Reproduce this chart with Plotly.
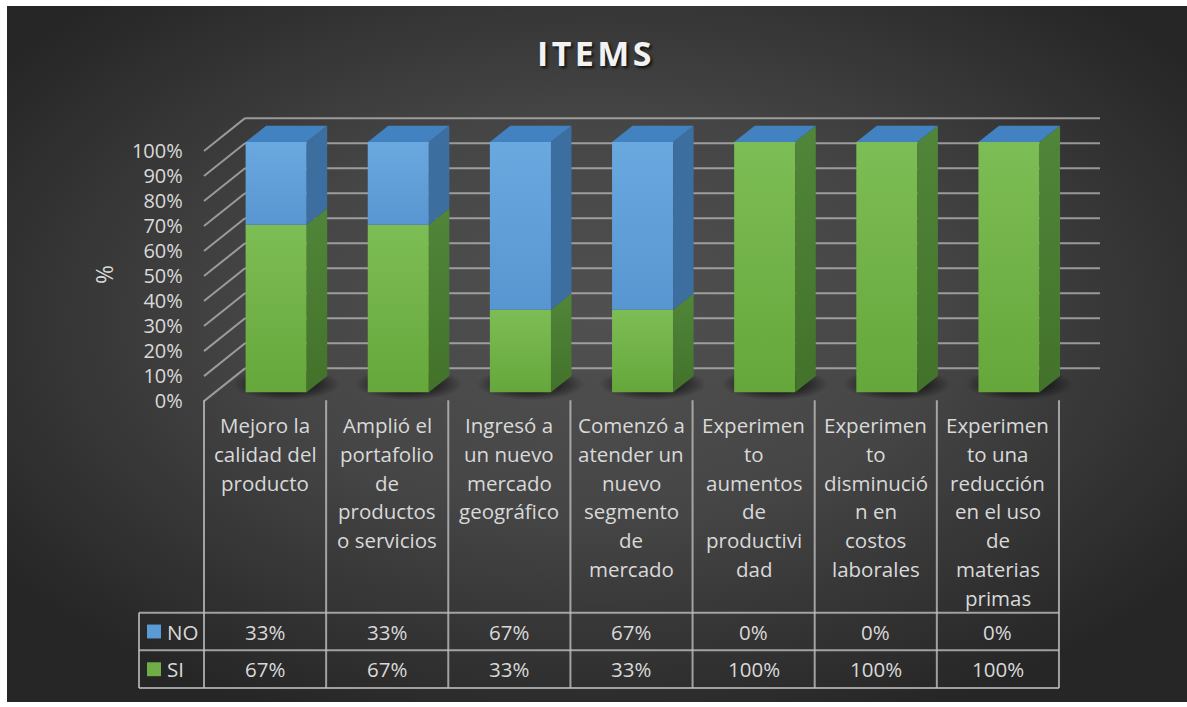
import base64
import numpy as np
import plotly.graph_objects as go

W, H = 1187, 707

# ---- data -------------------------------------------------------------
CATEGORY_LINES = [
    ["Mejoro la", "calidad del", "producto"],
    ["Amplió el", "portafolio", "de", "productos", "o servicios"],
    ["Ingresó a", "un nuevo", "mercado", "geográfico"],
    ["Comenzó a", "atender un", "nuevo", "segmento", "de", "mercado"],
    ["Experimen", "to", "aumentos", "de", "productivi", "dad"],
    ["Experimen", "to", "disminució", "n en", "costos", "laborales"],
    ["Experimen", "to una", "reducción", "en el uso", "de", "materias", "primas"],
]
SI = [67, 67, 33, 33, 100, 100, 100]
NO = [33, 33, 67, 67, 0, 0, 0]
Y_TICKS = [0, 10, 20, 30, 40, 50, 60, 70, 80, 90, 100]
TITLE = "ITEMS"
Y_TITLE = "%"

# ---- styling ------------------------------------------------------------
FONT = "Open Sans"
TXT = "#d9d9d9"
FS = 20.5
TICK_FS = 20
GREEN_FRONT = [[0, "#66a73b"], [1, "#7dbd55"]]
GREEN_SIDE = [[0, "#43722a"], [1, "#50863a"]]
BLUE_FRONT = [[0, "#5796d0"], [1, "#6aa8e0"]]
BLUE_SIDE = "#3c6e9f"
BLUE_TOP = "#4282c0"
GRID = "rgba(185,185,185,0.75)"
TABLE_LINE = "rgba(190,190,190,0.8)"

# oblique projection of the 3-D floor/walls onto the 2-D axes
DX, DY = 0.336, 13.1          # shift per unit of depth (x units, y units)
BAR_X0, BAR_X1 = 0.25, 0.75   # bar extent inside a category slot
BAR_Z0, BAR_Z1 = 0.27, 0.77   # bar depth extent

# pixel frame of the plotting area
X0_PX, UX = 204.0, 122.14     # x=0 position and px per category
Y0_PX, UY = 404.0, 2.52       # y=0 position and px per percent
XR = [-0.1, 7.4]
YR = [-3, 117]


def px_x(x):
    return X0_PX + x * UX


def fx(p):
    return p / W


def fy(p):
    return 1 - p / H


def proj(x, y, z):
    return x + z * DX, y + z * DY


def poly(pts):
    xs, ys = zip(*[proj(*p) for p in pts])
    return list(xs) + [xs[0]], list(ys) + [ys[0]]


fig = go.Figure()

# back wall and side wall gridlines
gx, gy = [], []
for v in Y_TICKS:
    a, b = proj(0, v, 1), proj(len(SI), v, 1)
    gx += [a[0], b[0], None]
    gy += [a[1], b[1], None]
    c, d = proj(0, v, 0), proj(0, v, 1)
    gx += [c[0], d[0], None]
    gy += [c[1], d[1], None]
fig.add_trace(go.Scatter(x=gx, y=gy, mode="lines", line=dict(color=GRID, width=2),
                         hoverinfo="skip", showlegend=False))

# soft floor shadows under each bar
t = np.linspace(0, 2 * np.pi, 73)
for i in range(len(SI)):
    cx, cy = proj(i + 0.5, 0, (BAR_Z0 + BAR_Z1) / 2)
    sx = cx + 0.44 * np.cos(t)
    sy = cy + 6.5 * np.sin(t)
    fig.add_trace(go.Scatter(
        x=sx, y=sy, mode="lines", line=dict(width=0), fill="toself",
        fillgradient=dict(type="radial",
                          colorscale=[[0, "rgba(0,0,0,0.8)"], [0.55, "rgba(0,0,0,0.5)"],
                                      [1, "rgba(0,0,0,0)"]]),
        hoverinfo="skip", showlegend=False))


def face(pts, fill=None, grad=None, orient="vertical"):
    xs, ys = poly(pts)
    kw = dict(x=xs, y=ys, mode="lines", line=dict(width=0), fill="toself",
              hoverinfo="skip", showlegend=False)
    if grad is not None:
        kw["fillgradient"] = dict(type=orient, colorscale=grad)
    else:
        kw["fillcolor"] = fill
    fig.add_trace(go.Scatter(**kw))


# stacked 3-D columns
for i, (si, no) in enumerate(zip(SI, NO)):
    x0, x1 = i + BAR_X0, i + BAR_X1
    segments = [(0, si, GREEN_FRONT, GREEN_SIDE), (si, si + no, BLUE_FRONT, BLUE_SIDE)]
    for y0, y1, front, side in segments:
        if y1 <= y0:
            continue
        face([(x0, y0, BAR_Z0), (x1, y0, BAR_Z0), (x1, y1, BAR_Z0), (x0, y1, BAR_Z0)], grad=front)
        side_pts = [(x1, y0, BAR_Z0), (x1, y0, BAR_Z1), (x1, y1, BAR_Z1), (x1, y1, BAR_Z0)]
        if isinstance(side, str):
            face(side_pts, fill=side)
        else:
            face(side_pts, grad=side)
    top = si + no
    face([(x0, top, BAR_Z0), (x1, top, BAR_Z0), (x1, top, BAR_Z1), (x0, top, BAR_Z1)], fill=BLUE_TOP)

# ---- data table below the columns ------------------------------------
TABLE_TOP, ROW_NO, ROW_SI, TABLE_BOT = 403, 617, 655, 693
LEG_LEFT = 139
shapes = []
n = len(SI)
for k in range(n + 1):
    shapes.append(dict(type="line", xref="paper", yref="paper",
                       x0=fx(px_x(k)), x1=fx(px_x(k)), y0=fy(TABLE_TOP), y1=fy(TABLE_BOT),
                       line=dict(color=TABLE_LINE, width=2)))
for yy in (ROW_NO, ROW_SI, TABLE_BOT):
    shapes.append(dict(type="line", xref="paper", yref="paper",
                       x0=fx(LEG_LEFT), x1=fx(px_x(n)), y0=fy(yy), y1=fy(yy),
                       line=dict(color=TABLE_LINE, width=2)))
shapes.append(dict(type="line", xref="paper", yref="paper",
                   x0=fx(LEG_LEFT), x1=fx(LEG_LEFT), y0=fy(ROW_NO), y1=fy(TABLE_BOT),
                   line=dict(color=TABLE_LINE, width=2)))

annotations = []
row_mid = {"NO": (ROW_NO + ROW_SI) / 2, "SI": (ROW_SI + TABLE_BOT) / 2}
key_color = {"NO": "#5b9bd5", "SI": "#70ad47"}
for name, vals in (("NO", NO), ("SI", SI)):
    ym = row_mid[name]
    shapes.append(dict(type="rect", xref="paper", yref="paper",
                       x0=fx(147), x1=fx(161), y0=fy(ym - 7), y1=fy(ym + 7),
                       fillcolor=key_color[name], line=dict(width=0)))
    annotations.append(dict(text=name, xref="paper", yref="paper", x=fx(165), y=fy(ym),
                            xanchor="left", yanchor="middle", showarrow=False,
                            font=dict(family=FONT, size=FS, color=TXT)))
    for i, v in enumerate(vals):
        annotations.append(dict(text=f"{v}%", xref="x", yref="paper", x=i + 0.5, y=fy(ym),
                                xanchor="center", yanchor="middle", showarrow=False,
                                font=dict(family=FONT, size=FS, color=TXT)))

for i, lines in enumerate(CATEGORY_LINES):
    for j, ln in enumerate(lines):
        annotations.append(dict(text=ln, xref="x", yref="paper", x=i + 0.5, y=fy(428 + 29 * j),
                                xanchor="center", yanchor="middle", showarrow=False,
                                font=dict(family=FONT, size=FS, color=TXT)))

annotations.append(dict(text=Y_TITLE, xref="paper", yref="paper", x=fx(104), y=fy(277),
                        xanchor="center", yanchor="middle",
                        textangle=-90, showarrow=False,
                        font=dict(family=FONT, size=23, color=TXT)))
annotations.append(dict(text="\u200a".join(TITLE), xref="paper", yref="paper", x=0.5, y=fy(53),
                        xanchor="center", yanchor="middle", showarrow=False,
                        font=dict(family=FONT, size=34, color="#f2f2f2", weight="bold",
                                  shadow="2px 2px 3px rgba(0,0,0,0.75)")))

# radial dark background
svg = (
    f'<svg xmlns="http://www.w3.org/2000/svg" width="{W}" height="{H}" '
    f'viewBox="0 0 100 100" preserveAspectRatio="none">'
    '<defs><radialGradient id="g" cx="0.5" cy="0.45" r="0.62">'
    '<stop offset="0" stop-color="#505050"/><stop offset="0.45" stop-color="#464646"/>'
    '<stop offset="1" stop-color="#262626"/></radialGradient></defs>'
    '<rect width="100" height="100" fill="url(#g)"/></svg>'
)
bg_src = "data:image/svg+xml;base64," + base64.b64encode(svg.encode()).decode()

# axis domains derived from the pixel frame
xd = [fx(px_x(XR[0])), fx(px_x(XR[1]))]
yd = [fy(Y0_PX - YR[0] * UY), fy(Y0_PX - YR[1] * UY)]

fig.update_layout(
    width=W, height=H,
    margin=dict(l=0, r=0, t=0, b=0),
    paper_bgcolor="white",
    plot_bgcolor="rgba(0,0,0,0)",
    images=[dict(source=bg_src, xref="paper", yref="paper", x=fx(7), y=1 - 6 / H,
                 sizex=1 - 7 / W, sizey=1 - 6 / H, sizing="stretch",
                 xanchor="left", yanchor="top", layer="below")],
    xaxis=dict(domain=xd, range=XR, visible=False, fixedrange=True),
    yaxis=dict(domain=yd, range=YR, tickvals=Y_TICKS, ticktext=[f"{v}%" for v in Y_TICKS],
               showgrid=False, zeroline=False, showline=False, ticks="",
               ticklabelstandoff=8,
               tickfont=dict(family=FONT, size=TICK_FS, color=TXT), fixedrange=True),
    shapes=shapes,
    annotations=annotations,
    showlegend=False,
)

fig.write_html("out.html")
